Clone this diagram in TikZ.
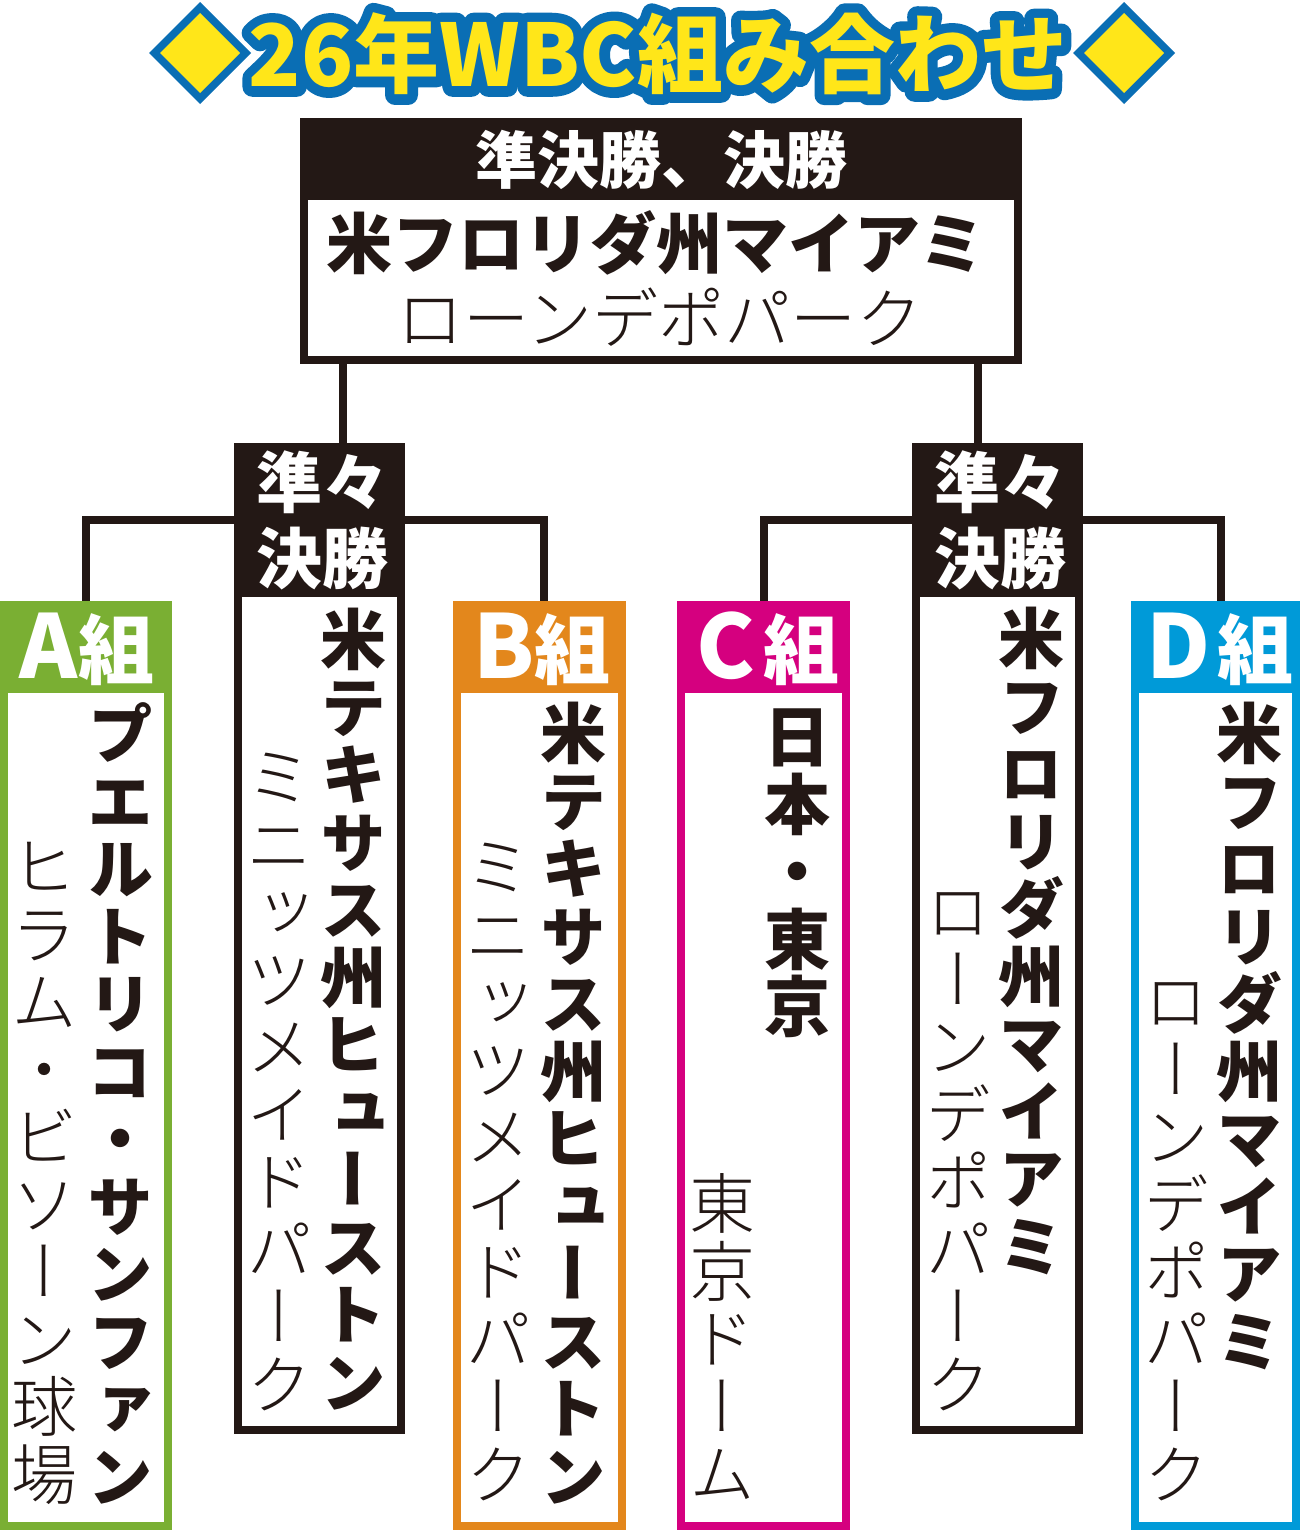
\documentclass[tikz,border=0pt]{standalone}
\usepackage{fontspec}
\IfFontExistsTF{Noto Sans CJK JP Black}{\def\HeavyName{Noto Sans CJK JP Black}}{\def\HeavyName{Noto Sans CJK JP Bold}}
\IfFontExistsTF{Noto Sans CJK JP Light}{\def\LightName{Noto Sans CJK JP Light}}{\def\LightName{Noto Sans CJK JP}}
\newfontfamily\hvH{\HeavyName}
\newfontfamily\hvV{\HeavyName}[RawFeature=+vert]
\newfontfamily\ltH{\LightName}
\newfontfamily\ltV{\LightName}[RawFeature=+vert]
\newcommand\fsz[1]{\fontsize{#1}{#1}\selectfont}
\definecolor{blk}{HTML}{231815}
\definecolor{gA}{HTML}{7AAF33}
\definecolor{oB}{HTML}{E3871C}
\definecolor{mC}{HTML}{D5007F}
\definecolor{cD}{HTML}{009AD8}
\definecolor{tY}{HTML}{FFE619}
\definecolor{tB}{HTML}{0A6EB4}
\newcommand\vcol[6]{\foreach \vch [count=\k] in {#6} {\node[#5] (#1-\k) at (#2,{#3+(\k-0.5)*#4}) {\vch};}}
\newcommand\strokedtext[1]{\special{pdf:literal direct 2 Tr 20 w 1 j 1 J 0.039 0.431 0.706 RG}#1\special{pdf:literal direct 0 Tr 1 w 0 j 0 J}}
\begin{document}
\begin{tikzpicture}[x=1pt,y=-1pt,
 conn/.style={draw=blk, line width=8pt},
 frame/.style={draw=#1, line width=8pt, fill=white, inner sep=0pt},
 hdr/.style={fill=#1, inner sep=0pt, text=white},
 vb/.style={font={\hvV\fsz{66}}, text=blk, inner sep=0pt, text height=58pt, text depth=8pt},
 vl/.style={font={\ltV\fsz{66}}, text=blk, inner sep=0pt, text height=58pt, text depth=8pt},
 ttl/.style={font={\hvH\fsz{86}}, inner sep=0pt}]
\useasboundingbox (0,0) rectangle (1300,1531);
\fill[white] (0,0) rectangle (1300,1531);
% title
\fill[tB] (200,2) -- (251,53) -- (200,104) -- (149,53) -- cycle;
\fill[tY] (200,13) -- (240,53) -- (200,93) -- (160,53) -- cycle;
\fill[tB] (1124,2) -- (1175,53) -- (1124,104) -- (1073,53) -- cycle;
\fill[tY] (1124,13) -- (1164,53) -- (1124,93) -- (1084,53) -- cycle;
\node[ttl, text=tB] (ttlo) at (658,54) {\strokedtext{26年WBC組み合わせ}};
\node[ttl, text=tY] (ttl) at (658,54) {26年WBC組み合わせ};
% connectors
\coordinate (tL) at (343,364);
\coordinate (tR) at (978,364);
\coordinate (bL) at (319.5,520);
\coordinate (bR) at (997.5,520);
% boxes
\node[frame=blk, minimum width=714pt, minimum height=238pt] (top) at (661,241) {};
\node[hdr=blk, minimum width=722pt, minimum height=82pt] (toph) at (661,159) {};
\node[frame=blk, minimum width=163pt, minimum height=983pt] (QL) at (319.5,938.5) {};
\node[hdr=blk, minimum width=171pt, minimum height=154pt] (QLh) at (319.5,520) {};
\node[frame=blk, minimum width=163pt, minimum height=983pt] (QR) at (997.5,938.5) {};
\node[hdr=blk, minimum width=171pt, minimum height=154pt] (QRh) at (997.5,520) {};
\node[frame=gA, minimum width=164pt, minimum height=921pt] (A) at (86,1065.5) {};
\node[hdr=gA, minimum width=172pt, minimum height=92pt] (Ah) at (86,647) {};
\node[frame=oB, minimum width=165pt, minimum height=921pt] (B) at (539.5,1065.5) {};
\node[hdr=oB, minimum width=173pt, minimum height=92pt] (Bh) at (539.5,647) {};
\node[frame=mC, minimum width=165pt, minimum height=921pt] (C) at (763.5,1065.5) {};
\node[hdr=mC, minimum width=173pt, minimum height=92pt] (Ch) at (763.5,647) {};
\node[frame=cD, minimum width=161pt, minimum height=921pt] (D) at (1215.5,1065.5) {};
\node[hdr=cD, minimum width=169pt, minimum height=92pt] (Dh) at (1215.5,647) {};
\draw[conn] (tL) -- (tL |- QLh.north);
\draw[conn] (tR) -- (tR |- QRh.north);
\draw[conn] (Ah.north) |- (bL) -| ([xshift=4pt]Bh.north);
\draw[conn] (Ch.north) |- (bR) -| ([xshift=5.5pt]Dh.north);
% top box texts
\node[font={\hvH\fsz{62}}, text=white, inner sep=0pt] (sfT) at (661,160) {準決勝、決勝};
\node[font={\hvH\fsz{66}}, text=blk, inner sep=0pt] (sfV1) at (656,243) {米フロリダ州マイアミ};
\node[font={\ltH\fsz{66}}, text=blk, inner sep=0pt] (sfV2) at (660,317) {ローンデポパーク};
% headers text
\node[font={\hvH\fontsize{66}{76}\selectfont}, text=white, align=center, inner sep=0pt] (QLt) at (322,520) {準々\\決勝};
\node[font={\hvH\fontsize{66}{76}\selectfont}, text=white, align=center, inner sep=0pt] (QRt) at (1000,520) {準々\\決勝};
\node[text=white, inner sep=0pt, font=\hvH] (At) at (87,649) {{\fsz{88}A}{\fsz{76}組}};
\node[text=white, inner sep=0pt, font=\hvH] (Bt) at (542,649) {{\fsz{88}B}{\fsz{76}組}};
\node[text=white, inner sep=0pt, font=\hvH] (Ct) at (768,649) {{\fsz{88}C}\hspace{8pt}{\fsz{76}組}};
\node[text=white, inner sep=0pt, font=\hvH] (Dt) at (1220,649) {{\fsz{88}D}\hspace{6pt}{\fsz{76}組}};
% vertical columns
\vcol{Ab}{120}{700}{67.5}{vb}{プ,エ,ル,ト,リ,コ,・,サ,ン,フ,ァ,ン}
\vcol{Al}{45}{833}{67.5}{vl}{ヒ,ラ,ム,・,ビ,ソ,ー,ン,球,場}
\vcol{QLb}{353}{606}{67.5}{vb}{米,テ,キ,サ,ス,州,ヒ,ュ,ー,ス,ト,ン}
\vcol{QLl}{279}{743}{67.5}{vl}{ミ,ニ,ッ,ツ,メ,イ,ド,パ,ー,ク}
\vcol{Bb}{573}{700}{67.5}{vb}{米,テ,キ,サ,ス,州,ヒ,ュ,ー,ス,ト,ン}
\vcol{Bl}{498}{833}{67.5}{vl}{ミ,ニ,ッ,ツ,メ,イ,ド,パ,ー,ク}
\vcol{Cb}{797}{703}{67.5}{vb}{日,本,・,東,京}
\vcol{Cl}{722}{1170}{67.5}{vl}{東,京,ド,ー,ム}
\vcol{QRb}{1031}{605}{67.5}{vb}{米,フ,ロ,リ,ダ,州,マ,イ,ア,ミ}
\vcol{QRl}{958}{878}{67.5}{vl}{ロ,ー,ン,デ,ポ,パ,ー,ク}
\vcol{Db}{1249}{700}{67.5}{vb}{米,フ,ロ,リ,ダ,州,マ,イ,ア,ミ}
\vcol{Dl}{1176}{968}{67.5}{vl}{ロ,ー,ン,デ,ポ,パ,ー,ク}
\end{tikzpicture}
\end{document}
